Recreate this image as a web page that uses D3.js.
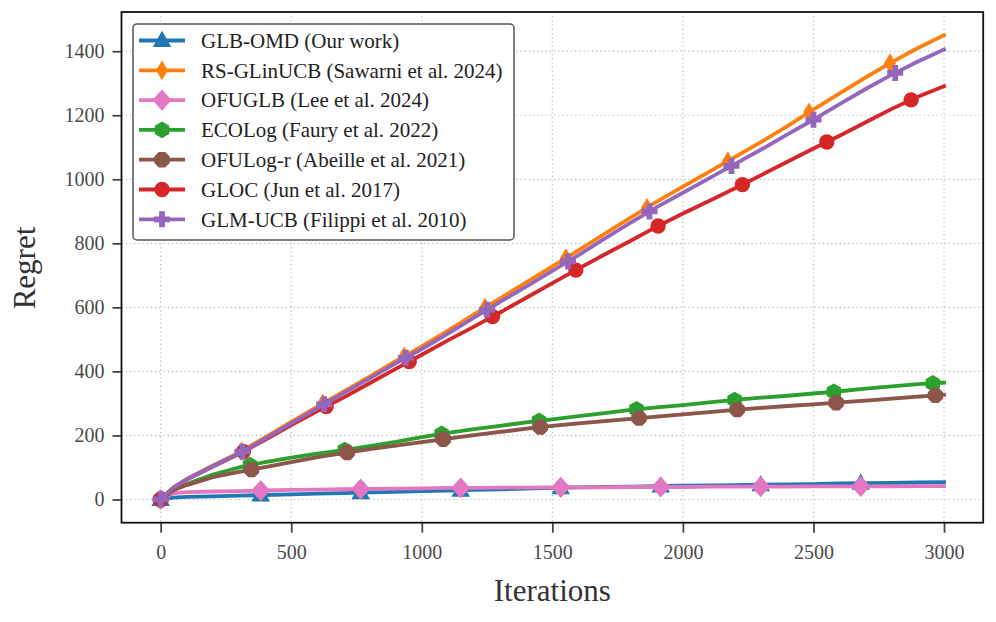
<!DOCTYPE html>
<html>
<head>
<meta charset="utf-8">
<script src="https://cdn.jsdelivr.net/npm/d3@7"></script>
<style>
html,body{margin:0;padding:0;background:#fff;}
svg{display:block;}
svg text{font-family:"Liberation Serif","Times New Roman",serif !important;}
</style>
</head>
<body>
<svg id="chart" width="996" height="622"></svg>
<script>
// ---------------- data ----------------
const iterations = [0,50,100,200,300,400,500,600,700,800,900,1000,1100,1200,1300,1400,1500,1600,1700,1800,1900,2000,2100,2200,2300,2400,2500,2600,2700,2800,2900,3000];

const seriesNames = [
  "GLB-OMD (Our work)",
  "RS-GLinUCB (Sawarni et al. 2024)",
  "OFUGLB (Lee et al. 2024)",
  "ECOLog (Faury et al. 2022)",
  "OFULog-r (Abeille et al. 2021)",
  "GLOC (Jun et al. 2017)",
  "GLM-UCB (Filippi et al. 2010)"
];

const glbOmd     = [0,6,8,10,12,14,16,18,20,22,24,26,28,30,32,34,36,38,39,40,42,43,44,45,46,47,48,50,51,52,53,54];
const rsGlinucb  = [0,38,64,106,146,194,242,290,337,384,432,478,527,578,628,678,728,778,830,880,930,977,1023,1070,1117,1166,1218,1268,1318,1366,1410,1450];
const ofuglb     = [0,20,23,25,26,28,30,31,32,33,34,35,36,36,37,37,38,38,38,39,39,39,40,40,40,40,41,41,41,41,42,42];
const ecolog     = [0,30,48,78,100,117,131,143,154,167,180,195,208,220,230,241,250,260,270,280,288,295,303,311,318,324,331,338,346,353,360,365];
const ofulogR    = [0,30,45,70,86,101,117,132,145,157,168,179,190,201,211,221,230,238,245,252,259,266,273,280,286,292,297,303,309,315,321,327];
const gloc       = [0,38,62,103,142,186,232,276,318,363,408,452,497,540,584,630,676,721,765,808,852,893,932,972,1013,1055,1096,1136,1178,1220,1258,1291];
const glmUcb     = [0,38,63,104,143,190,238,285,332,378,425,470,518,568,617,665,714,763,815,865,913,958,1003,1048,1093,1140,1186,1235,1282,1327,1368,1405];

// spread of the shaded band around each mean curve
const bandSpread = [2,4,2,4,6,4,4];

// iterations at which markers are drawn
const marksGlbOmd    = [0,383,766,1149,1532,1915,2298,2681];
const marksRsGlinucb = [0,310,621,932,1242,1552,1862,2172,2483,2793];
const marksOfuglb    = [0,383,766,1149,1532,1915,2298,2681];
const marksEcolog    = [0,342,705,1076,1449,1822,2198,2578,2957];
const marksOfulogR   = [0,348,714,1082,1454,1832,2208,2587,2967];
const marksGloc      = [0,317,634,952,1271,1590,1905,2228,2551,2874];
const marksGlmUcb    = [0,313,626,939,1250,1560,1872,2186,2500,2813];

const xTicks = [0,500,1000,1500,2000,2500,3000];
const yTicks = [0,200,400,600,800,1000,1200,1400];

// ---------------- styles ----------------
const colors = ["#1f77b4","#ff7f0e","#e377c2","#2ca02c","#8c564b","#d62728","#9467bd"];
const markerTypes = ["triangle","thindiamond","diamond","hexagon","octagon","circle","plus"];
const values = [glbOmd, rsGlinucb, ofuglb, ecolog, ofulogR, gloc, glmUcb];
const marks = [marksGlbOmd, marksRsGlinucb, marksOfuglb, marksEcolog, marksOfulogR, marksGloc, marksGlmUcb];

const series = seriesNames.map((name,i)=>({
  name, color: colors[i], marker: markerTypes[i], spread: bandSpread[i],
  points: iterations.map((it,j)=>({x:it, y:values[i][j]})),
  markIters: marks[i],
  interp: d3.scaleLinear().domain(iterations).range(values[i])
}));

// ---------------- layout ----------------
const svg = d3.select("#chart");
const L = 121.5, R = 983.2, T = 12, B = 522.7;
const x = d3.scaleLinear().domain([-150, 3150]).range([L, R]);
const y = d3.scaleLinear().domain([-72.5, 1522.5]).range([B, T]);

// grid
const grid = svg.append("g");
grid.selectAll("line.gx").data(xTicks).join("line")
  .attr("x1", d=>x(d)).attr("x2", d=>x(d)).attr("y1", T).attr("y2", B)
  .attr("stroke", "#b8b8b8").attr("stroke-width", 1.2).attr("stroke-dasharray", "1.2,3");
grid.selectAll("line.gy").data(yTicks).join("line")
  .attr("y1", d=>y(d)).attr("y2", d=>y(d)).attr("x1", L).attr("x2", R)
  .attr("stroke", "#b8b8b8").attr("stroke-width", 1.2).attr("stroke-dasharray", "1.2,3");

// axes
const fmt = d3.format("d");
const xAxis = d3.axisBottom(x).tickValues(xTicks).tickFormat(fmt).tickSizeOuter(0).tickSize(10).tickPadding(7);
const yAxis = d3.axisLeft(y).tickValues(yTicks).tickFormat(fmt).tickSizeOuter(0).tickSize(9).tickPadding(8);
const gx = svg.append("g").attr("transform", `translate(0,${B})`).call(xAxis);
const gy = svg.append("g").attr("transform", `translate(${L},0)`).call(yAxis);
[gx, gy].forEach(g=>{
  g.attr("font-family", null);
  g.select(".domain").remove();
  g.selectAll(".tick line").attr("stroke", "#444").attr("stroke-width", 1.8);
  g.selectAll(".tick text").attr("fill", "#4a4a4a").attr("font-size", "20px");
});
gx.selectAll(".tick text").attr("dy", "0.95em");

// clip
svg.append("clipPath").attr("id","clip").append("rect")
  .attr("x", L).attr("y", T).attr("width", R-L).attr("height", B-T);

// marker shapes
function markerPath(type, s) {
  const poly = (pts)=> "M" + pts.map(p=>p[0].toFixed(2)+","+p[1].toFixed(2)).join("L") + "Z";
  const reg = (n, r, rot)=> d3.range(n).map(k=>{
    const a = rot + k*2*Math.PI/n;
    return [r*Math.cos(a), r*Math.sin(a)];
  });
  switch(type){
    case "triangle": { const r = s*0.58; return poly([[0,-r*1.05],[r,r*0.7],[-r,r*0.7]]); }
    case "thindiamond": { const h = s*0.62, w = h*0.6; return poly([[0,-h],[w,0],[0,h],[-w,0]]); }
    case "diamond": { const h = s*0.66; return poly([[0,-h],[h*0.9,0],[0,h],[-h*0.9,0]]); }
    case "hexagon": return poly(reg(6, s*0.52, -Math.PI/2));
    case "octagon": return poly(reg(8, s*0.52, Math.PI/8));
    case "circle": { const r = s*0.48; return `M${r},0A${r},${r} 0 1,1 ${-r},0A${r},${r} 0 1,1 ${r},0Z`; }
    case "plus": { const a = s*0.5, b = s*0.18;
      return poly([[-b,-a],[b,-a],[b,-b],[a,-b],[a,b],[b,b],[b,a],[-b,a],[-b,b],[-a,b],[-a,-b],[-b,-b]]); }
  }
}
const MS = 16;

const plot = svg.append("g").attr("clip-path", "url(#clip)");
const line = d3.line().x(d=>x(d.x)).y(d=>y(d.y));
const area = d3.area().x(d=>x(d.x)).y0(d=>y(d.y - d.s)).y1(d=>y(d.y + d.s));

series.forEach(s=>{
  plot.append("path")
    .datum(s.points.map(p=>({x:p.x, y:p.y, s: p.x===0 ? 0 : s.spread})))
    .attr("d", area).attr("fill", s.color).attr("opacity", 0.2);
});
series.forEach(s=>{
  const g = plot.append("g");
  g.append("path").datum(s.points).attr("d", line)
    .attr("fill","none").attr("stroke", s.color).attr("stroke-width", 3.8)
    .attr("stroke-linejoin","round").attr("stroke-linecap","square");
  g.selectAll("path.m").data(s.markIters).join("path")
    .attr("class","m")
    .attr("transform", d=>`translate(${x(d)},${y(s.interp(d))})`)
    .attr("d", markerPath(s.marker, MS))
    .attr("fill", s.color);
});

// frame
svg.append("rect").attr("x", L).attr("y", T).attr("width", R-L).attr("height", B-T)
  .attr("fill","none").attr("stroke","#111").attr("stroke-width", 1.8);

// axis labels
svg.append("text").attr("x", (L+R)/2).attr("y", 601)
  .attr("text-anchor","middle").attr("font-size","31px").attr("fill","#333").text("Iterations");
svg.append("text").attr("transform", `translate(35,268) rotate(-90)`)
  .attr("text-anchor","middle").attr("font-size","31px").attr("fill","#333").text("Regret");

// legend
const lg = svg.append("g");
lg.append("rect").attr("x", 133).attr("y", 24).attr("width", 381).attr("height", 216)
  .attr("rx", 4).attr("fill","#fff").attr("fill-opacity",0.85)
  .attr("stroke","#555").attr("stroke-width",1.5);
series.forEach((s,i)=>{
  const cy = 40.5 + i*29.8;
  lg.append("line").attr("x1",139).attr("x2",185).attr("y1",cy).attr("y2",cy)
    .attr("stroke", s.color).attr("stroke-width", 3.8);
  lg.append("path").attr("transform",`translate(162,${cy})`)
    .attr("d", markerPath(s.marker, MS)).attr("fill", s.color);
  lg.append("text").attr("x", 201).attr("y", cy).attr("dy","0.35em")
    .attr("font-size","21px").attr("fill","#222").text(s.name);
});
</script>
</body>
</html>
